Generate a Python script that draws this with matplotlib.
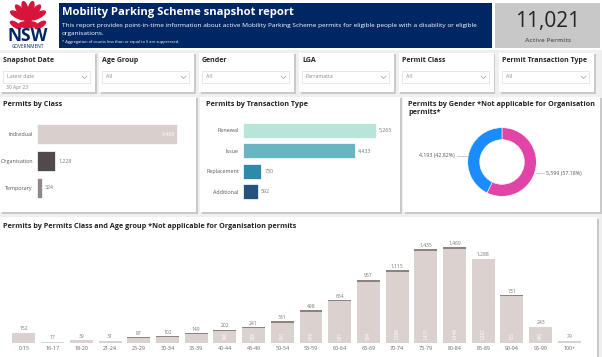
import matplotlib
matplotlib.use('Agg')
import matplotlib.pyplot as plt
from matplotlib.patches import Rectangle, Ellipse
import numpy as np

plt.rcParams['font.family'] = ['Open Sans', 'DejaVu Sans']

# data
class_names = ['Individual', 'Organisation', 'Temporary']
class_vals = [9468, 1228, 324]
class_cols = ['#d9d0ce', '#51494a', '#8f8785']

tx_names = ['Renewal', 'Issue', 'Replacement', 'Additional']
tx_vals = [5265, 4433, 730, 592]
tx_cols = ['#b9e4d9', '#6ab5c2', '#2f89ab', '#27527f']

gender_vals = [5599, 4193]
gender_labels = ['5,599 (57.18%)', '4,193 (42.82%)']
gender_cols = ['#e044a7', '#1a8cff']

age_groups = ['0-15', '16-17', '18-20', '21-24', '25-29', '30-34', '35-39', '40-44', '45-49', '50-54',
              '55-59', '60-64', '65-69', '70-74', '75-79', '80-84', '85-89', '90-94', '95-99', '100+']
age_totals = [152, 17, 39, 31, 87, 102, 149, 202, 241, 331, 498, 654, 967, 1115, 1435, 1469, 1288, 731, 243, 29]
age_indiv = [152, 17, 39, 31, 81, 96, 141, 188, 228, 310, 478, 637, 934, 1088, 1415, 1446, 1282, 725, 240, 29]

slicers = [('Snapshot Date', 'Latest date'), ('Age Group', 'All'), ('Gender', 'All'),
           ('LGA', 'Parramatta'), ('Permit Class', 'All'), ('Permit Transaction Type', 'All')]

W, H = 602, 357
fig = plt.figure(figsize=(W / 100, H / 100), dpi=100)
fig.patch.set_facecolor('#efefef')


def box(x0, y0, x1, y1, **kw):
    fig.patches.append(Rectangle((x0 / W, 1 - y1 / H), (x1 - x0) / W, (y1 - y0) / H,
                                 transform=fig.transFigure, zorder=-2, **kw))


def panel(x0, y0, x1, y1):
    box(x0 + 1.5, y0 + 1.5, x1 + 1.5, y1 + 1.5, facecolor='#c9c9c9', edgecolor='none')
    box(x0, y0, x1, y1, facecolor='white', edgecolor='none')


def txt(x, y, s, **kw):
    fig.text(x / W, 1 - y / H, s, **kw)


def axpx(x0, y0, x1, y1):
    ax = fig.add_axes([x0 / W, 1 - y1 / H, (x1 - x0) / W, (y1 - y0) / H])
    ax.set_facecolor('none')
    ax.set_zorder(2)
    return ax


# white strip at top
box(0, 0, W, 50, facecolor='white', edgecolor='none')

# logo (waratah)
lax = axpx(8, 1, 48, 30)
lax.set_xlim(-1, 1)
lax.set_ylim(-0.25, 1.2)
lax.axis('off')
red = '#d7153a'
for ang in [-62, -38, -14, 14, 38, 62]:
    a = np.deg2rad(ang)
    cx, cy = 0.58 * np.sin(a), 0.2 + 0.6 * np.cos(a)
    lax.add_patch(Ellipse((cx, cy), 0.26, 0.8, angle=-ang, color=red))
lax.add_patch(Ellipse((0, 0.5), 0.45, 0.75, color=red))
for ang in [-95, 95]:
    a = np.deg2rad(ang)
    lax.add_patch(Ellipse((0.62 * np.sin(a), 0.0), 0.22, 0.6, angle=-ang * 0.6, color=red))
lax.add_patch(Ellipse((0, 0.02), 0.9, 0.3, color=red))
txt(28, 36, 'NSW', ha='center', va='center', fontsize=12.5, fontweight='bold', color='#002664')
txt(28, 46.5, 'GOVERNMENT', ha='center', va='center', fontsize=3.4, color='#002664')

# header
box(59, 3, 492, 48, facecolor='#002664', edgecolor='none')
txt(62, 13, 'Mobility Parking Scheme snapshot report', fontsize=8.1, fontweight='bold',
    color='white', va='center')
txt(62, 25, 'This report provides point-in-time information about active Mobility Parking Scheme '
    'permits for eligible people with a disability or eligible', fontsize=4.65, color='white', va='center')
txt(62, 33, 'organisations.', fontsize=4.65, color='white', va='center')
txt(62, 42, '* Aggregation of counts less than or equal to 5 are suppressed.', fontsize=2.9,
    color='white', va='center')

# KPI card
box(495, 3, 600, 48, facecolor='#c8c8c8', edgecolor='none')
txt(548, 21, '11,021', ha='center', va='center', fontsize=15, color='#252423')
txt(548, 40, 'Active Permits', ha='center', va='center', fontsize=4.6, fontweight='bold', color='#6e6e6e')

# slicers
sx = [0, 99, 199, 299, 399, 499]
for (title, val), x0 in zip(slicers, sx):
    panel(x0, 53, x0 + 95, 92)
    txt(x0 + 3, 61, title, fontsize=5, fontweight='bold', color='#252423', va='center')
    box(x0 + 3, 71, x0 + 90, 83, facecolor='white', edgecolor='#e3e3e3', linewidth=0.6)
    txt(x0 + 7, 77, val, fontsize=3.8, color='#8a8a8a', va='center')
    fig.lines.append(plt.Line2D([(x0 + 82) / W, (x0 + 84.5) / W, (x0 + 87) / W],
                                [1 - 76 / H, 1 - 78.5 / H, 1 - 76 / H],
                                transform=fig.transFigure, color='#a0a0a0', lw=0.5))
txt(6, 88, '30 Apr 23', fontsize=3.6, color='#8a8a8a', va='center')

# permits by class
panel(0, 97, 196, 212)
txt(3, 104, 'Permits by Class', fontsize=5.2, fontweight='bold', color='#252423', va='center')
ax1 = axpx(37, 121, 190, 201)
yy = np.arange(len(class_names))
ax1.barh(yy, class_vals, height=0.76, color=class_cols, edgecolor='white', linewidth=0.5)
ax1.set_ylim(2.5, -0.5)
ax1.set_xlim(0, 9468 * 153 / 140)
ax1.set_yticks(yy, class_names, fontsize=3.9, color='#555555')
ax1.tick_params(length=0, pad=3, labelbottom=False)
for s in ax1.spines.values():
    s.set_visible(False)
ax1.text(class_vals[0] - 150, 0, '9,468', ha='right', va='center', fontsize=3.8, color='white')
for i in (1, 2):
    ax1.text(class_vals[i] + 200, i, f'{class_vals[i]:,}', ha='left', va='center', fontsize=3.8,
             color='#777777')

# permits by transaction type
panel(200, 97, 400, 212)
txt(206, 104, 'Permits by Transaction Type', fontsize=5.2, fontweight='bold', color='#252423', va='center')
ax2 = axpx(243, 120, 395, 202)
yy = np.arange(len(tx_names))
ax2.barh(yy, tx_vals, height=0.74, color=tx_cols, edgecolor='white', linewidth=0.5)
ax2.set_ylim(3.5, -0.5)
ax2.set_xlim(0, 5265 * 152 / 133)
ax2.set_yticks(yy, tx_names, fontsize=3.9, color='#555555')
ax2.tick_params(length=0, pad=3, labelbottom=False)
for s in ax2.spines.values():
    s.set_visible(False)
for i, v in enumerate(tx_vals):
    ax2.text(v + 120, i, f'{v:,}', ha='left', va='center', fontsize=3.8, color='#777777')

# permits by gender
panel(403, 97, 600, 212)
txt(408, 104, 'Permits by Gender *Not applicable for Organisation', fontsize=5.2, fontweight='bold',
    color='#252423', va='center')
txt(408, 113, 'permits*', fontsize=5.2, fontweight='bold', color='#252423', va='center')
ax3 = axpx(467, 127, 537, 197)
ax3.pie(gender_vals, colors=gender_cols, startangle=90, counterclock=False, radius=1,
        wedgeprops=dict(width=0.35, edgecolor='white', linewidth=0.4))
ax3.set_xlim(-1.02, 1.02)
ax3.set_ylim(-1.02, 1.02)
txt(455, 156, gender_labels[1], ha='right', va='center', fontsize=3.8, color='#555555')
txt(546, 173, gender_labels[0], ha='left', va='center', fontsize=3.8, color='#555555')
fig.lines.append(plt.Line2D([457 / W, 467 / W], [1 - 156 / H, 1 - 156 / H],
                            transform=fig.transFigure, color='#bbbbbb', lw=0.5))
fig.lines.append(plt.Line2D([536 / W, 544 / W], [1 - 173 / H, 1 - 173 / H],
                            transform=fig.transFigure, color='#bbbbbb', lw=0.5))

# permits by class and age group
panel(0, 217, 597, 357)
txt(3, 226, 'Permits by Permits Class and Age group *Not applicable for Organisation permits',
    fontsize=5.2, fontweight='bold', color='#252423', va='center')
ax4 = axpx(9.6, 237, 583.7, 343)
xx = np.arange(len(age_groups))
temp = [t - i for t, i in zip(age_totals, age_indiv)]
ax4.bar(xx, age_indiv, width=0.8, color='#dbd2d0', linewidth=0)
ax4.bar(xx, temp, bottom=age_indiv, width=0.8, color='#8c8280', linewidth=0)
ax4.set_xlim(-0.5, len(age_groups) - 0.5)
ax4.set_ylim(0, 1469 * 106 / 96)
ax4.set_xticks(xx, age_groups, fontsize=3.9, color='#666666')
ax4.tick_params(length=0, pad=2, left=False, labelleft=False)
for s in ax4.spines.values():
    s.set_visible(False)
for i, (t, v) in enumerate(zip(age_totals, age_indiv)):
    ax4.text(i, t + 25, f'{t:,}', ha='center', va='bottom', fontsize=3.6, color='#777777')
    if i >= 7:
        ax4.text(i, 40, f'{v:,}', ha='center', va='bottom', rotation=90, fontsize=3.3, color='white')

fig.savefig('out.png', dpi=100, facecolor=fig.get_facecolor())
